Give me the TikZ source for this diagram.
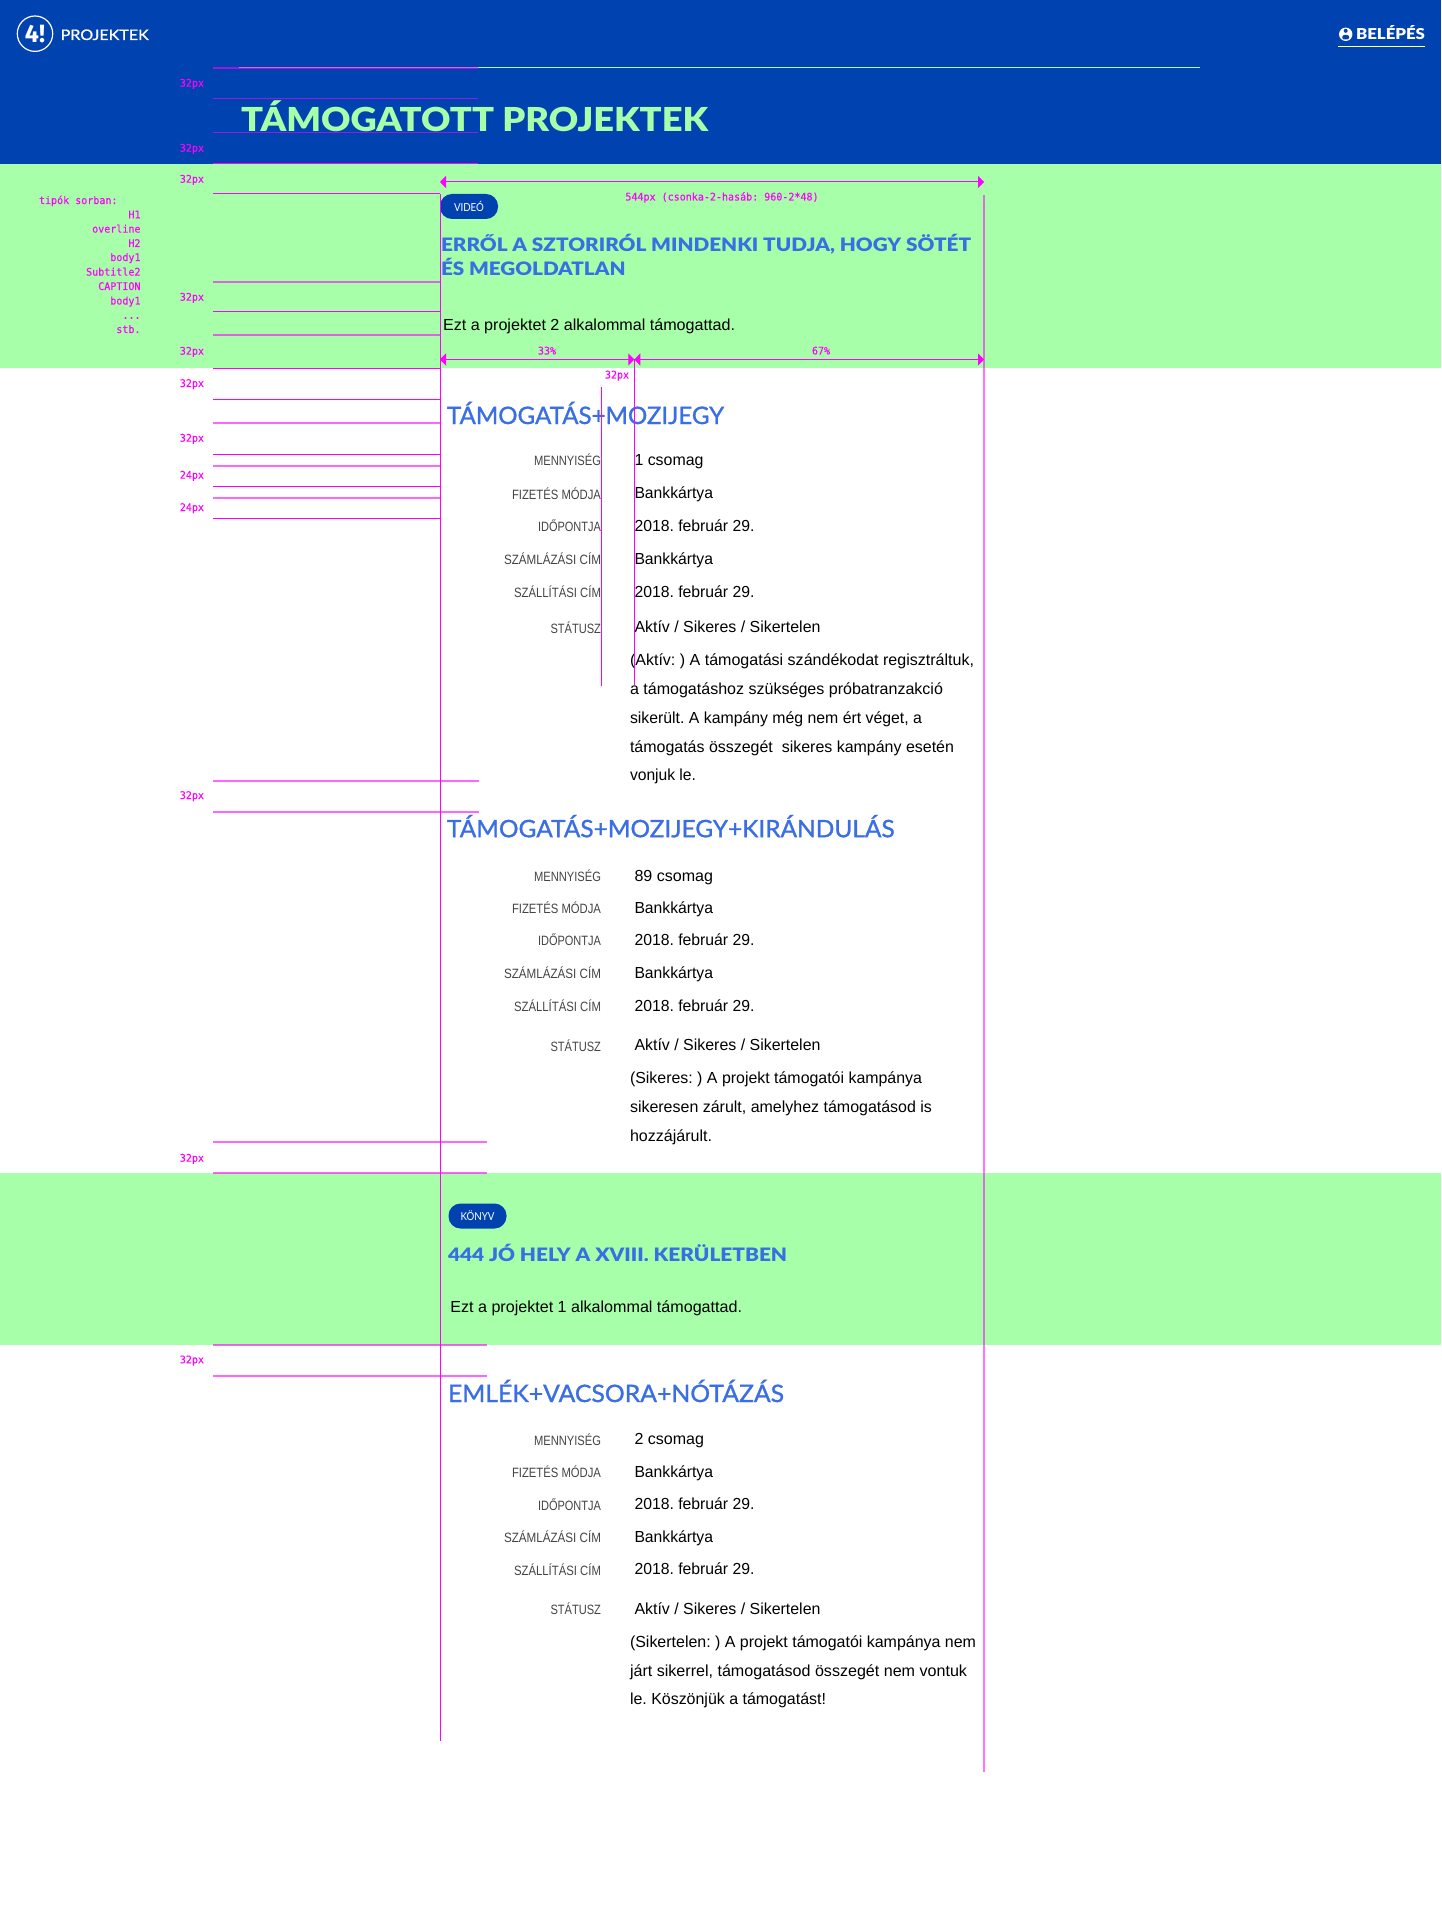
\documentclass[tikz,border=0pt]{standalone}
\usepackage{fontspec}
\usepackage{graphicx}
\usetikzlibrary{arrows.meta}
\setmainfont{Liberation Sans}
\newfontfamily\nun{Lato}
\newfontfamily\nunm{Lato}[FakeBold=1.1]
\newfontfamily\nunx{Lato Black}
\newfontfamily\monof{DejaVu Sans Mono}[FakeStretch=.955,FakeBold=.2]
\newfontfamily\logof{Fira Sans}
\definecolor{hblue}{HTML}{0043B0}
\definecolor{hgreen}{HTML}{A8FFA9}
\definecolor{hhead}{HTML}{3A6EE4}
\definecolor{hlabel}{HTML}{444444}
\definecolor{mag}{HTML}{FF00FF}
\newcommand\fs[1]{\fontsize{\dimexpr #1pt*1/2\relax}{\dimexpr #1pt*1/2\relax}\selectfont\frenchspacing}
\tikzset{
  txt/.style={inner sep=0pt,outer sep=0pt},
  valtxt/.style={txt,anchor=base west,font=\fs{16},text=black},
  labtxt/.style={txt,anchor=base east,font=\fs{13.5},text=hlabel},
  h3txt/.style={txt,anchor=base west,font=\nunm\fs{24},text=hhead},
  h2txt/.style={txt,anchor=base west,font=\nunx\fs{18.5},text=hhead},
  dimtxt/.style={txt,anchor=base,font=\monof\fs{10.5},text=mag},
  sidetxt/.style={txt,anchor=base east,font=\monof\fs{10.5},text=mag},
  badge/.style={txt,fill=hblue,rounded corners=6pt,text=white,font=\nun\fs{11},minimum height=12.5pt},
  hl/.style={mag,line width=.5pt},
  hls/.style={mag,line width=.8pt,opacity=.6},
  vl/.style={mag,line width=.5pt},
  dimline/.style={mag,line width=.5pt,{Triangle[length=3pt,width=6pt]}-{Triangle[length=3pt,width=6pt]}},
}
\newcommand\wn[6]{\node[#1] (#2) at (#3,#4) {\resizebox{\dimexpr #5pt*1/2\relax}{\height}{#6}};}
\newcommand\sz[3]{\node[sidetxt] (#1) at (204,#2) {#3};}
\newcommand\rowsA[7]{%
  \wn{labtxt}{#1la}{601}{#2}{67}{MENNYISÉG}
  \wn{labtxt}{#1lb}{601}{#3}{89}{FIZETÉS MÓDJA}
  \wn{labtxt}{#1lc}{601}{#4}{63}{IDŐPONTJA}
  \wn{labtxt}{#1ld}{601}{#5}{97}{SZÁMLÁZÁSI CÍM}
  \wn{labtxt}{#1le}{601}{#6}{87}{SZÁLLÍTÁSI CÍM}
  \wn{labtxt}{#1lf}{601}{#7}{50.5}{STÁTUSZ}
}
\newcommand\rowsB[9]{%
  \wn{valtxt}{#1va}{634.5}{#2}{#9}{#8}
  \wn{valtxt}{#1vb}{634.5}{#3}{78.5}{Bankkártya}
  \wn{valtxt}{#1vc}{634.5}{#4}{120}{2018. február 29.}
  \wn{valtxt}{#1vd}{634.5}{#5}{78.5}{Bankkártya}
  \wn{valtxt}{#1ve}{634.5}{#6}{120}{2018. február 29.}
  \wn{valtxt}{#1vf}{634.5}{#7}{186}{Aktív / Sikeres / Sikertelen}
}
\begin{document}
\begin{tikzpicture}[x=0.5pt,y=-0.5pt]
\useasboundingbox (0,0) rectangle (1441,1925);
\fill[white] (0,0) rectangle (1441,1925);
\fill[hblue] (0,0) rectangle (1441,164);
\fill[hgreen] (0,164) rectangle (1441,368);
\fill[hgreen] (0,1173) rectangle (1441,1345);

% header
\draw[white,line width=.6pt] (35,33.7) circle (17.7);
\node[txt,font=\logof\fs{25}\bfseries,text=white] (logo) at (35,34) {4!};
\wn{txt,anchor=base west,font=\nunm\fs{14.5},text=white}{brand}{60.7}{40}{88}{PROJEKTEK}
\fill[white] (1345.7,34.3) circle (6.7);
\fill[hblue] (1345.7,30.8) circle (2);
\fill[hblue,rounded corners=1pt] (1342.3,35) rectangle (1349.1,39.5);
\wn{txt,anchor=base west,font=\nunx\fs{15},text=white}{login}{1356}{39.8}{69}{BELÉPÉS}
\draw[white,line width=.8pt] (1338,46.7) -- (1425,46.7);
\draw[hgreen,line width=.5pt] (239,68) -- (1200,68);
\wn{txt,anchor=base west,font=\nunx\fs{33},text=hgreen}{title}{241}{131.7}{467}{TÁMOGATOTT PROJEKTEK}

% side list
\node[txt,anchor=base west,font=\monof\fs{10.5},text=mag] (tlist) at (39,204) {tipók sorban:};
\node[sidetxt] (t1) at (140.5,218.3) {H1};
\node[sidetxt] (t2) at (140.5,232.6) {overline};
\node[sidetxt] (t3) at (140.5,247) {H2};
\node[sidetxt] (t4) at (140.5,261) {body1};
\node[sidetxt] (t5) at (140.5,275.6) {Subtitle2};
\node[sidetxt] (t6) at (140.5,290) {CAPTION};
\node[sidetxt] (t7) at (140.5,304.5) {body1};
\node[sidetxt] (t8) at (140.5,318.8) {...};
\node[sidetxt] (t9) at (140.5,333) {stb.};

% card 1
\node[badge,minimum width=29pt] (b1) at (469,206.5) {\resizebox{15pt}{\height}{VIDEÓ}};
\wn{h2txt}{c1a}{441}{252}{530}{ERRŐL A SZTORIRÓL MINDENKI TUDJA, HOGY SÖTÉT}
\wn{h2txt}{c1b}{441}{276}{184.5}{ÉS MEGOLDATLAN}
\wn{valtxt}{c1c}{443}{331}{292}{Ezt a projektet 2 alkalommal támogattad.}

% section 1
\wn{h3txt}{s1}{447}{424}{277}{TÁMOGATÁS+MOZIJEGY}
\rowsA{a}{466}{499}{531}{564}{597}{633}
\rowsB{a}{466}{498}{531}{564}{597}{632}{1 csomag}{69}
\wn{valtxt}{ap1}{630}{665}{344}{(Aktív: ) A támogatási szándékodat regisztráltuk,}
\wn{valtxt}{ap2}{630}{694}{313}{a támogatáshoz szükséges próbatranzakció}
\wn{valtxt}{ap3}{630}{723}{292}{sikerült. A kampány még nem ért véget, a}
\wn{valtxt}{ap4}{630}{752}{324}{támogatás összegét\ \ sikeres kampány esetén}
\wn{valtxt}{ap5}{630}{780}{66}{vonjuk le.}

% section 2
\wn{h3txt}{s2}{447}{837.2}{447.5}{TÁMOGATÁS+MOZIJEGY+KIRÁNDULÁS}
\rowsA{b}{881}{913}{945}{978}{1011}{1051}
\rowsB{b}{881}{913}{945}{978}{1011}{1050}{89 csomag}{78.5}
\wn{valtxt}{bp1}{630}{1083}{292}{(Sikeres: ) A projekt támogatói kampánya}
\wn{valtxt}{bp2}{630}{1112}{302}{sikeresen zárult, amelyhez támogatásod is}
\wn{valtxt}{bp3}{630}{1141}{82}{hozzájárult.}

% card 2
\node[badge,minimum width=29pt] (b2) at (477.5,1216) {\resizebox{17pt}{\height}{KÖNYV}};
\wn{h2txt}{c2a}{448}{1261}{339}{444 JÓ HELY A XVIII. KERÜLETBEN}
\wn{valtxt}{c2c}{450.4}{1312}{291.6}{Ezt a projektet 1 alkalommal támogattad.}

% section 3
\wn{h3txt}{s3}{448}{1402}{336}{EMLÉK+VACSORA+NÓTÁZÁS}
\rowsA{c}{1445}{1477}{1510}{1542}{1575}{1614}
\rowsB{c}{1444}{1477}{1509}{1542}{1574}{1614}{2 csomag}{69.5}
\wn{valtxt}{cp1}{630}{1647}{346}{(Sikertelen: ) A projekt támogatói kampánya nem}
\wn{valtxt}{cp2}{630}{1676}{337}{járt sikerrel, támogatásod összegét nem vontuk}
\wn{valtxt}{cp3}{630}{1704}{196}{le. Köszönjük a támogatást!}

% measuring overlay: horizontal guides
\draw[hls] (213,68) -- (478,68);
\foreach \y in {98.7,132.7}{\draw[hls] (213,\y) -- (478,\y);}
\draw[hl] (213,164) -- (478,164);
\foreach \y in {194,312,368.3,399.3,454.7,486.3,518.3}{\draw[hl] (213,\y) -- (440,\y);}
\foreach \y in {282,335,423.3,466.3,498}{\draw[hls] (213,\y) -- (440,\y);}
\foreach \y in {781,812}{\draw[hls] (213,\y) -- (479,\y);}
\foreach \y in {1142,1173,1345,1376}{\draw[hls] (213,\y) -- (487,\y);}

% vertical guides
\coordinate (vlt) at (440,194);
\coordinate (vlb) at (440,1740.7);
\coordinate (vrt) at (984,195);
\coordinate (vrb) at (984,1771.7);
\draw[vl] (vlt) -- (vlb);
\draw[mag,line width=1pt,opacity=.55] (vrt) -- (vrb);
\coordinate (coltA) at (601.5,387);
\coordinate (colbA) at (601.5,686);
\coordinate (coltB) at (634.3,359.5);
\coordinate (colbB) at (634.3,685);
\draw[vl] (coltA) -- (colbA);
\draw[vl] (coltB) -- (colbB);

% dimension arrows
\coordinate (dl) at (440,182);
\coordinate (dr) at (984,182);
\draw[dimline] (dl) -- (dr);
\coordinate (el) at (440,359.5);
\coordinate (em) at (634.3,359.5);
\coordinate (er) at (984,359.5);
\draw[dimline] (el) -- (em);
\draw[dimline] (em) -- (er);
\node[dimtxt] (d544) at (722,200.5) {544px (csonka-2-hasáb: 960-2*48)};
\node[dimtxt] (d33) at (547,354.5) {33\%};
\node[dimtxt] (d67) at (821,354.5) {67\%};
\node[dimtxt] (d32) at (617,378.5) {32px};

% side measures
\sz{m1}{86.7}{32px}
\sz{m2}{151.7}{32px}
\sz{m3}{182.7}{32px}
\sz{m4}{300.7}{32px}
\sz{m5}{354.7}{32px}
\sz{m6}{387}{32px}
\sz{m7}{441.7}{32px}
\sz{m8}{478.7}{24px}
\sz{m9}{511}{24px}
\sz{m10}{799}{32px}
\sz{m11}{1161.7}{32px}
\sz{m12}{1363.3}{32px}
\end{tikzpicture}
\end{document}
